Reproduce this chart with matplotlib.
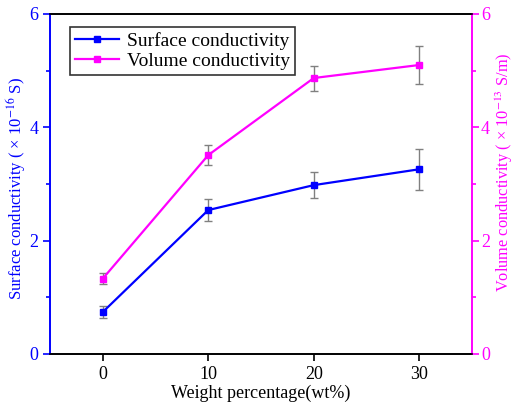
import matplotlib
matplotlib.use("Agg")
import matplotlib.pyplot as plt
from matplotlib.ticker import MultipleLocator
from matplotlib.lines import Line2D

plt.rcParams['font.family'] = ['Liberation Serif', 'DejaVu Serif']
plt.rcParams['mathtext.fontset'] = 'stix'

weight = [0, 10, 20, 30]
surface = [0.74, 2.54, 2.98, 3.26]
surface_err = [0.11, 0.20, 0.23, 0.36]
volume = [1.33, 3.51, 4.87, 5.10]
volume_err = [0.10, 0.18, 0.22, 0.34]

blue = '#0000FF'
mag = '#FF00FF'

W, H = 516, 403
fig = plt.figure(figsize=(W/100, H/100), dpi=100)
ax = fig.add_axes([50/W, 1-354/H, (472-50)/W, (354-14)/H])
ax2 = ax.twinx()

ax.errorbar(weight, surface, yerr=surface_err, color=blue, marker='s', ms=5,
            lw=1.6, ecolor='gray', elinewidth=1, capsize=3, capthick=1, zorder=3)
ax2.errorbar(weight, volume, yerr=volume_err, color=mag, marker='s', ms=5,
             lw=1.6, ecolor='gray', elinewidth=1, capsize=3, capthick=1, zorder=3)

ax.set_xlim(-5, 35)
ax.set_ylim(0, 6)
ax2.set_ylim(0, 6)
ax.set_xticks(weight)
ax.yaxis.set_major_locator(MultipleLocator(2))
ax.yaxis.set_minor_locator(MultipleLocator(1))
ax2.yaxis.set_major_locator(MultipleLocator(2))
ax2.yaxis.set_minor_locator(MultipleLocator(1))

ax.tick_params(axis='x', direction='out', labelsize=13, length=5, width=1.2)
ax.tick_params(axis='y', which='both', colors=blue, labelsize=13, width=1.2)
ax.tick_params(axis='y', which='major', length=5)
ax.tick_params(axis='y', which='minor', length=3)
ax2.tick_params(axis='y', which='both', colors=mag, labelsize=13, width=1.2, pad=1.5)
ax2.tick_params(axis='y', which='major', length=5)
ax2.tick_params(axis='y', which='minor', length=3)

for a in (ax, ax2):
    for s in a.spines.values():
        s.set_linewidth(1.2)
ax2.spines['left'].set_color(blue)
ax2.spines['right'].set_color(mag)
ax.spines['left'].set_color(blue)
ax.spines['right'].set_color(mag)

ax.set_xlabel('Weight percentage(wt%)', fontsize=13, labelpad=1)
fig.text(16/W, 1-188/H, 'Surface conductivity ( × 10$^{-16}$ S)', fontsize=12,
         color=blue, rotation=90, ha='center', va='center')
fig.text(504.5/W, 1-172/H, 'Volume conductivity ( × 10$^{-13}$ S/m)', fontsize=11.8,
         color=mag, rotation=90, ha='center', va='center')

handles = [Line2D([], [], color=blue, marker='s', ms=5, lw=1.6),
           Line2D([], [], color=mag, marker='s', ms=5, lw=1.6)]
labels = ['Surface conductivity', 'Volume conductivity']
leg = ax2.legend(handles, labels, loc='upper left', bbox_to_anchor=(0.047, 0.962),
                 fontsize=14, frameon=True, fancybox=False, edgecolor='black',
                 handlelength=2.3, handletextpad=0.4, borderpad=0.25,
                 labelspacing=0.15, borderaxespad=0)
leg.get_frame().set_linewidth(1.2)

fig.savefig('out.png', dpi=100)
